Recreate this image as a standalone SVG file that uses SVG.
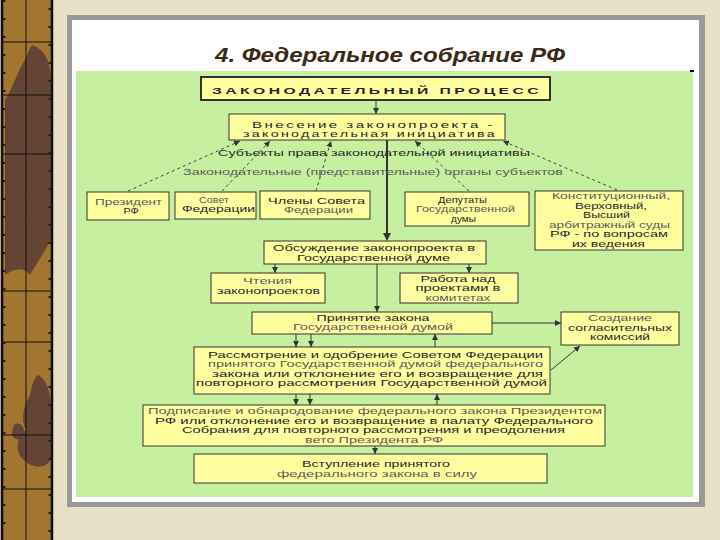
<svg xmlns="http://www.w3.org/2000/svg" width="720" height="540" viewBox="0 0 720 540">
<defs>
<marker id="ah" viewBox="0 0 8 8" refX="8" refY="4" markerWidth="6" markerHeight="6" orient="auto" markerUnits="userSpaceOnUse"><path d="M0,0 L8,4 L0,8 z" fill="#333"/></marker>
<style>
.box{fill:#ffffa0;stroke:#333;stroke-width:1}
.t{font-family:"Liberation Sans",Arial,sans-serif;font-size:9.2px;fill:#262626;text-anchor:middle}
.l{fill:#5c5c5c}
.c{stroke:#333;stroke-width:1;fill:none;marker-end:url(#ah)}
.d{stroke:#444;stroke-width:1;fill:none;stroke-dasharray:3 3;marker-end:url(#ah)}
.g{stroke:#111;stroke-width:1}
</style>
</defs>
<rect width="720" height="540" fill="#e8e0c6"/>
<g id="strip">
<rect x="2" y="0" width="51" height="540" fill="#a3762f"/>
<path d="M32,45 C45,50 50,60 51,80 L51,240 C45,250 38,262 30,275 C22,265 12,270 5,275 L5,100 C12,90 18,70 25,60 C28,52 30,48 32,45 Z" fill="#654436"/>
<path d="M12,190 C20,185 28,200 26,215 C22,225 12,220 8,210 Z" fill="#654436"/>
<path d="M38,375 C48,380 51,395 51,410 L51,460 C44,470 30,468 22,458 C14,450 18,435 26,430 C20,420 24,405 30,395 C32,385 34,378 38,375 Z" fill="#654436"/>
<path d="M14,425 C20,420 26,428 24,436 C20,442 12,440 12,432 Z" fill="#654436"/>
<g class="g">
<line x1="26" y1="0" x2="26" y2="540"/>
<line x1="2" y1="42" x2="52" y2="42"/>
<line x1="2" y1="95" x2="52" y2="95"/>
<line x1="2" y1="154" x2="52" y2="154"/>
<line x1="2" y1="291" x2="52" y2="291"/>
<line x1="2" y1="342" x2="52" y2="342"/>
<line x1="2" y1="435" x2="52" y2="435"/>
<line x1="2" y1="489" x2="52" y2="489"/>
</g>
<line x1="4" y1="0" x2="4" y2="540" stroke="#222" stroke-width="3" stroke-dasharray="2 16"/>
<line x1="50" y1="8" x2="50" y2="540" stroke="#222" stroke-width="3" stroke-dasharray="2 16"/>
<rect x="2" y="-2" width="50" height="544" fill="none" stroke="#111" stroke-width="2.5"/>
</g>
<g id="panel">
<rect x="67" y="15" width="638" height="492" fill="#999"/>
<rect x="72" y="20" width="627" height="482" fill="#fff"/>
<rect x="76" y="71" width="617" height="426" fill="#c6f0a0"/>
<rect x="690" y="70" width="4" height="2" fill="#000"/>
<text x="390" y="62" font-family="'Liberation Sans',Arial,sans-serif" font-size="21" font-weight="bold" font-style="italic" fill="#3b2a14" text-anchor="middle" textLength="350" lengthAdjust="spacingAndGlyphs">4. Федеральное собрание РФ</text>
</g>
<g id="connectors">
<line class="c" x1="376" y1="100" x2="376" y2="114"/>
<line x1="387" y1="140" x2="387" y2="234" stroke="#333" stroke-width="2"/>
<path d="M383,233 L387,241 L391,233 z" fill="#333"/>
<line class="d" x1="128" y1="191" x2="240" y2="141"/>
<line class="d" x1="222" y1="191" x2="270" y2="141"/>
<line class="d" x1="316" y1="191" x2="331" y2="141"/>
<line class="d" x1="469" y1="191" x2="415" y2="141"/>
<line class="d" x1="617" y1="190" x2="503" y2="141"/>
<line class="c" x1="275" y1="264" x2="275" y2="273"/>
<line class="c" x1="469" y1="264" x2="469" y2="273"/>
<line class="c" x1="377" y1="264" x2="377" y2="312"/>
<line class="c" x1="492" y1="323" x2="561" y2="323"/>
<line class="c" x1="551" y1="370" x2="580" y2="346"/>
<line class="c" x1="296" y1="334" x2="296" y2="347"/>
<line class="c" x1="311" y1="334" x2="311" y2="347"/>
<line class="c" x1="435" y1="347" x2="435" y2="334"/>
<line class="c" x1="296" y1="394" x2="296" y2="405"/>
<line class="c" x1="310" y1="394" x2="310" y2="405"/>
<line class="c" x1="437" y1="405" x2="437" y2="394"/>
<line class="c" x1="375" y1="446" x2="375" y2="454"/>
</g>
<g id="n-process">
<rect x="201" y="77" width="349" height="23" fill="#ffffa0" stroke="#333" stroke-width="2"/>
<text class="t" x="377" y="94" font-size="13.5" font-weight="bold" letter-spacing="2" textLength="330" lengthAdjust="spacingAndGlyphs">ЗАКОНОДАТЕЛЬНЫЙ ПРОЦЕСС</text>
</g>
<g id="n-initiative">
<rect class="box" x="229" y="114" width="276" height="26"/>
<text class="t" x="373.5" y="127.5" font-size="11.5" letter-spacing="1.5" textLength="243" lengthAdjust="spacingAndGlyphs">Внесение законопроекта -</text>
<text class="t" x="370" y="137" font-size="11.5" letter-spacing="1.5" textLength="254" lengthAdjust="spacingAndGlyphs">законодательная инициатива</text>
</g>
<g id="n-subjects">
<text class="t" x="374" y="156" font-size="10.5" textLength="312" lengthAdjust="spacingAndGlyphs">Субъекты права законодательной инициативы</text>
<text class="t l" x="373" y="175" font-size="10" textLength="380" lengthAdjust="spacingAndGlyphs">Законодательные (представительные) органы субъектов</text>
</g>
<g id="n-president">
<rect class="box" x="87" y="192" width="82" height="28"/>
<text class="t l" x="128.5" y="204.5" textLength="67" lengthAdjust="spacingAndGlyphs">Президент</text>
<text class="t" x="131" y="214" textLength="15" lengthAdjust="spacingAndGlyphs">РФ</text>
</g>
<g id="n-sovet">
<rect class="box" x="175" y="192" width="81" height="27"/>
<text class="t l" x="214" y="202.5" textLength="30" lengthAdjust="spacingAndGlyphs">Совет</text>
<text class="t" x="218.5" y="212" textLength="73" lengthAdjust="spacingAndGlyphs">Федерации</text>
</g>
<g id="n-chleny">
<rect class="box" x="260" y="191" width="110" height="28"/>
<text class="t" x="316.5" y="203.5" textLength="97" lengthAdjust="spacingAndGlyphs">Члены Совета</text>
<text class="t l" x="318.5" y="213" textLength="69" lengthAdjust="spacingAndGlyphs">Федерации</text>
</g>
<g id="n-deputaty">
<rect class="box" x="405" y="192" width="124" height="34"/>
<text class="t" x="462.5" y="202.5" textLength="49" lengthAdjust="spacingAndGlyphs">Депутаты</text>
<text class="t l" x="465.5" y="212" textLength="99" lengthAdjust="spacingAndGlyphs">Государственной</text>
<text class="t" x="463.5" y="221.5" textLength="25" lengthAdjust="spacingAndGlyphs">думы</text>
</g>
<g id="n-sudy">
<rect class="box" x="535" y="191" width="148" height="59"/>
<text class="t l" x="611" y="199" textLength="118" lengthAdjust="spacingAndGlyphs">Конституционный,</text>
<text class="t" x="611" y="208.5" textLength="72" lengthAdjust="spacingAndGlyphs">Верховный,</text>
<text class="t" x="606.5" y="218" textLength="47" lengthAdjust="spacingAndGlyphs">Высший</text>
<text class="t l" x="609.5" y="227.5" textLength="121" lengthAdjust="spacingAndGlyphs">арбитражный суды</text>
<text class="t" x="609" y="237" textLength="118" lengthAdjust="spacingAndGlyphs">РФ - по вопросам</text>
<text class="t" x="608.5" y="246.5" textLength="73" lengthAdjust="spacingAndGlyphs">их ведения</text>
</g>
<g id="n-obsuzhdenie">
<rect class="box" x="264" y="241" width="222" height="23"/>
<text class="t" x="374" y="251" textLength="202" lengthAdjust="spacingAndGlyphs">Обсуждение законопроекта в</text>
<text class="t" x="373.5" y="260.5" textLength="153" lengthAdjust="spacingAndGlyphs">Государственной думе</text>
</g>
<g id="n-chteniya">
<rect class="box" x="211" y="273" width="114" height="30"/>
<text class="t l" x="267.5" y="284" textLength="49" lengthAdjust="spacingAndGlyphs">Чтения</text>
<text class="t" x="268.5" y="294" textLength="103" lengthAdjust="spacingAndGlyphs">законопроектов</text>
</g>
<g id="n-rabota">
<rect class="box" x="400" y="273" width="118" height="30"/>
<text class="t" x="458" y="281.5" textLength="75" lengthAdjust="spacingAndGlyphs">Работа над</text>
<text class="t" x="458" y="291" textLength="85" lengthAdjust="spacingAndGlyphs">проектами в</text>
<text class="t l" x="458" y="300.5" textLength="65" lengthAdjust="spacingAndGlyphs">комитетах</text>
</g>
<g id="n-prinyatie">
<rect class="box" x="252" y="312" width="240" height="22"/>
<text class="t" x="373" y="320.5" textLength="113" lengthAdjust="spacingAndGlyphs">Принятие закона</text>
<text class="t l" x="373" y="330" textLength="160" lengthAdjust="spacingAndGlyphs">Государственной думой</text>
</g>
<g id="n-sozdanie">
<rect class="box" x="561" y="312" width="118" height="33"/>
<text class="t l" x="620" y="321" textLength="64" lengthAdjust="spacingAndGlyphs">Создание</text>
<text class="t" x="620" y="330.5" textLength="104" lengthAdjust="spacingAndGlyphs">согласительных</text>
<text class="t" x="620" y="340" textLength="60" lengthAdjust="spacingAndGlyphs">комиссий</text>
</g>
<g id="n-rassmotrenie">
<rect class="box" x="194" y="347" width="356" height="47"/>
<text class="t" x="375.5" y="357.5" textLength="335" lengthAdjust="spacingAndGlyphs">Рассмотрение и одобрение Советом Федерации</text>
<text class="t l" x="375.5" y="367" textLength="335" lengthAdjust="spacingAndGlyphs">принятого Государственной думой федерального</text>
<text class="t" x="377.5" y="376.5" textLength="331" lengthAdjust="spacingAndGlyphs">закона или отклонение его и возвращение для</text>
<text class="t" x="371.5" y="386" textLength="351" lengthAdjust="spacingAndGlyphs">повторного рассмотрения Государственной думой</text>
</g>
<g id="n-podpisanie">
<rect class="box" x="143" y="405" width="462" height="41"/>
<text class="t l" x="375" y="414" textLength="454" lengthAdjust="spacingAndGlyphs">Подписание и обнародование федерального закона Президентом</text>
<text class="t" x="374" y="423.5" textLength="438" lengthAdjust="spacingAndGlyphs">РФ или отклонение его и возвращение в палату Федерального</text>
<text class="t" x="373.5" y="433" textLength="383" lengthAdjust="spacingAndGlyphs">Собрания для повторного рассмотрения и преодоления</text>
<text class="t l" x="374" y="442.5" textLength="138" lengthAdjust="spacingAndGlyphs">вето Президента РФ</text>
</g>
<g id="n-vstuplenie">
<rect class="box" x="194" y="454" width="353" height="29"/>
<text class="t" x="376" y="467" textLength="148" lengthAdjust="spacingAndGlyphs">Вступление принятого</text>
<text class="t l" x="377" y="477" textLength="200" lengthAdjust="spacingAndGlyphs">федерального закона в силу</text>
</g>
</svg>
